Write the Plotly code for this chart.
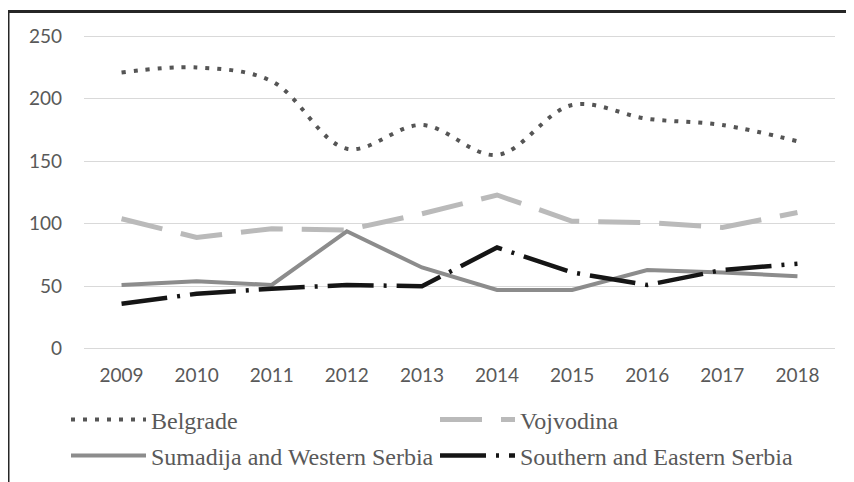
import plotly.graph_objects as go

years = ["2009", "2010", "2011", "2012", "2013", "2014", "2015", "2016", "2017", "2018"]
belgrade = [221, 225, 214, 160, 179, 155, 195, 184, 179, 166]
vojvodina = [104, 89, 96, 95, 108, 123, 102, 101, 97, 109]
sumadija = [51, 54, 51, 94, 65, 47, 47, 63, 61, 58]
southern = [36, 44, 48, 51, 50, 81, 61, 51, 63, 68]
y_ticks = [0, 50, 100, 150, 200, 250]

# page body has an 8px margin: figure is drawn at (8, 8) in the window
OFF = 8
W, H = 854 - OFF, 482 - OFF
ML, MR, MT, MB = 84 - OFF, 19, 35 - OFF, 132
PW = W - ML - MR
PH = H - MT - MB


def px_x(p):
    return (p - OFF - ML) / PW


def px_y(p):
    return (H - MB - (p - OFF)) / PH


fig = go.Figure()
fig.add_trace(go.Scatter(x=years, y=belgrade, name="Belgrade", mode="lines",
                         line=dict(color="#555555", width=4, dash="4px,8px", shape="spline", smoothing=1),
                         legend="legend"))
fig.add_trace(go.Scatter(x=years, y=vojvodina, name="Vojvodina", mode="lines",
                         line=dict(color="#bababa", width=5, dash="42px,19px"),
                         legend="legend2"))
fig.add_trace(go.Scatter(x=years, y=sumadija, name="Sumadija and Western Serbia", mode="lines",
                         line=dict(color="#8c8c8c", width=4),
                         legend="legend3"))
fig.add_trace(go.Scatter(x=years, y=southern, name="Southern and Eastern Serbia", mode="lines",
                         line=dict(color="#151515", width=4.5, dash="46px,10px,3px,10px"),
                         legend="legend4"))

legfont = dict(family="Liberation Serif", size=24, color="#595959")
common = dict(xanchor="left", yanchor="middle", font=legfont, itemwidth=75,
              bgcolor="rgba(0,0,0,0)", borderwidth=0)

fig.update_layout(
    width=W, height=H,
    margin=dict(l=ML, r=MR, t=MT, b=MB, autoexpand=False),
    paper_bgcolor="white", plot_bgcolor="white",
    showlegend=True,
    legend=dict(x=px_x(66), y=px_y(420), **common),
    legend2=dict(x=px_x(435), y=px_y(420), **common),
    legend3=dict(x=px_x(66), y=px_y(456), **common),
    legend4=dict(x=px_x(435), y=px_y(456), **common),
    xaxis=dict(type="category", categoryorder="array", categoryarray=years,
               range=[-0.5, 9.5],
               showgrid=False, zeroline=False, showline=False, ticks="",
               tickfont=dict(family="Lato", size=19, color="#595959"),
               ticklabelstandoff=12),
    yaxis=dict(range=[-1, 251], tickvals=y_ticks, showgrid=True, gridcolor="#d9d9d9",
               gridwidth=1, zeroline=False, showline=False, ticks="",
               tickfont=dict(family="Lato", size=19, color="#595959"),
               ticklabelstandoff=21),
    shapes=[
        dict(type="line", xref="paper", yref="paper",
             x0=px_x(8), x1=px_x(900), y0=px_y(11.5), y1=px_y(11.5),
             line=dict(color="#262626", width=3)),
        dict(type="line", xref="paper", yref="paper",
             x0=px_x(8), x1=px_x(8), y0=px_y(10), y1=px_y(520),
             line=dict(color="#262626", width=3)),
    ],
)

fig.write_html("out.html")
